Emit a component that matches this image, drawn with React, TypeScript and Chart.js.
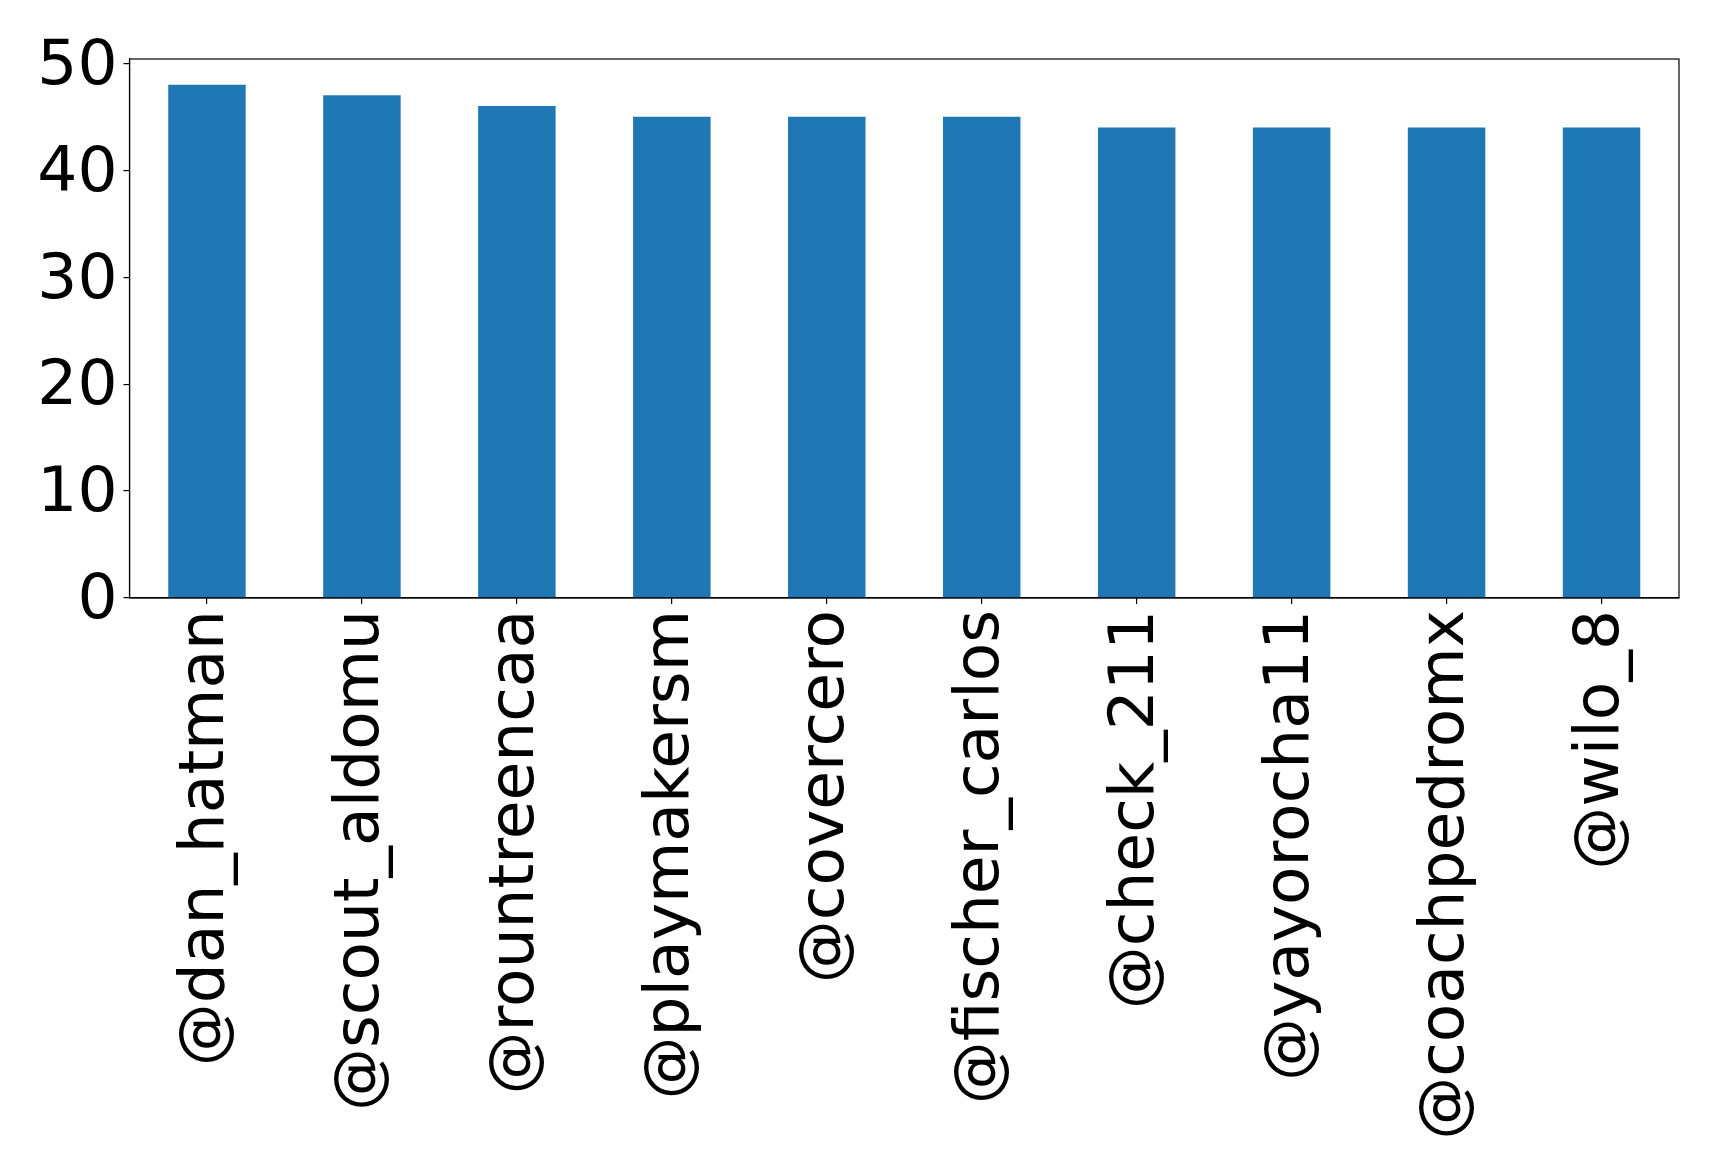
import React, { useEffect, useRef } from "react";
import { Chart, registerables } from "chart.js";

Chart.register(...registerables);

const categories = [
  "@dan_hatman",
  "@scout_aldomu",
  "@rountreencaa",
  "@playmakersm",
  "@covercero",
  "@fischer_carlos",
  "@check_211",
  "@yayorocha11",
  "@coachpedromx",
  "@wilo_8",
];
const values = [48, 47, 46, 45, 45, 45, 44, 44, 44, 44];
const yTicks = [0, 10, 20, 30, 40, 50];

const W = 1719;
const H = 1173;

const framePlugin = {
  id: "frame",
  afterDraw(chart: any) {
    const { ctx, chartArea } = chart;
    ctx.save();
    ctx.strokeStyle = "#000";
    ctx.lineWidth = 1.2;
    ctx.strokeRect(chartArea.left, chartArea.top, chartArea.right - chartArea.left, chartArea.bottom - chartArea.top);
    ctx.restore();
  },
};

export default function App() {
  const ref = useRef<HTMLCanvasElement>(null);
  useEffect(() => {
    const font = { family: "'DejaVu Sans', sans-serif", size: 63 };
    const chart = new Chart(ref.current!, {
      type: "bar",
      data: {
        labels: categories,
        datasets: [
          {
            data: values,
            backgroundColor: "#1f77b4",
            borderWidth: 0,
            categoryPercentage: 1,
            barPercentage: 0.5,
          },
        ],
      },
      options: {
        responsive: false,
        animation: false,
        devicePixelRatio: 1,
        layout: { padding: { top: 59, right: 40, left: 0, bottom: 0 } },
        plugins: { legend: { display: false }, tooltip: { enabled: false } },
        scales: {
          x: {
            grid: { display: true, offset: false, drawOnChartArea: false, drawTicks: true, tickLength: 6, color: "#000", lineWidth: 1.2 },
            border: { display: true, color: "#000", width: 1.2 },
            ticks: { color: "#000", font, minRotation: 90, maxRotation: 90, autoSkip: false, padding: 6 },
            afterFit: (s: any) => {
              s.height = 575;
            },
          },
          y: {
            min: 0,
            max: 50.4,
            grid: { display: true, drawOnChartArea: false, drawTicks: true, tickLength: 6, color: "#000", lineWidth: 1.2 },
            border: { display: true, color: "#000", width: 1.2 },
            afterBuildTicks: (s: any) => {
              s.ticks = yTicks.map((v) => ({ value: v }));
            },
            ticks: { color: "#000", font, padding: 6, includeBounds: false, labelOffset: 4 },
            afterFit: (s: any) => {
              s.width = 129.5;
            },
          },
        },
      },
      plugins: [framePlugin],
    });
    return () => chart.destroy();
  }, []);
  return (
    <div style={{ position: "absolute", left: 0, top: 0, width: W, height: H, background: "#fff" }}>
      <canvas ref={ref} width={W} height={H} style={{ width: W, height: H, display: "block" }} />
    </div>
  );
}
